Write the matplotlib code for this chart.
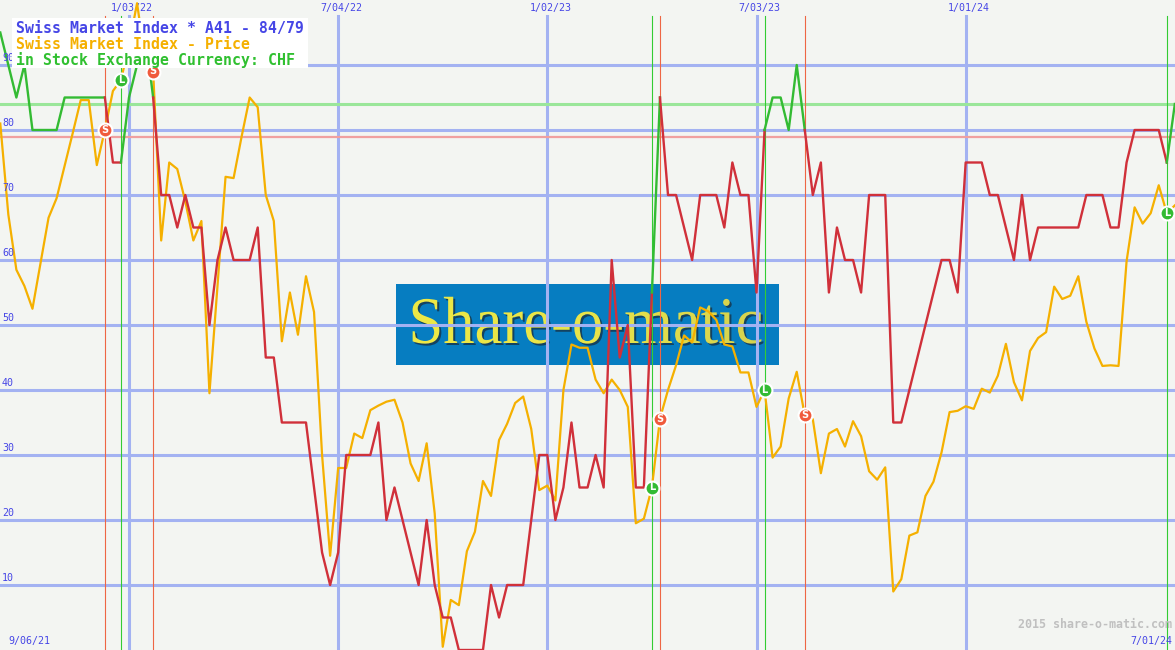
import numpy as np
import matplotlib.pyplot as plt
from matplotlib.patches import Rectangle, PathPatch
from matplotlib.textpath import TextPath
from matplotlib.font_manager import FontProperties
from matplotlib.transforms import Affine2D
from matplotlib.colors import LinearSegmentedColormap

# semanas desde 9/06/21, el indice 1 es la primera semana visible
semanas = np.arange(1, 148)

# indicador A41 (0-100)
indicador = [95, 90, 85, 90, 80, 80, 80, 80, 85, 85,
             85, 85, 85, 85, 75, 75, 85, 90, 95, 85,
             70, 70, 65, 70, 65, 65, 50, 60, 65, 60,
             60, 60, 65, 45, 45, 35, 35, 35, 35, 25,
             15, 10, 15, 30, 30, 30, 30, 35, 20, 25,
             20, 15, 10, 20, 10, 5, 5, 0, 0, 0,
             0, 10, 5, 10, 10, 10, 20, 30, 30, 20,
             25, 35, 25, 25, 30, 25, 60, 45, 50, 25,
             25, 55, 85, 70, 70, 65, 60, 70, 70, 70,
             65, 75, 70, 70, 55, 80, 85, 85, 80, 90,
             80, 70, 75, 55, 65, 60, 60, 55, 70, 70,
             70, 35, 35, 40, 45, 50, 55, 60, 60, 55,
             75, 75, 75, 70, 70, 65, 60, 70, 60, 65,
             65, 65, 65, 65, 65, 70, 70, 70, 65, 65,
             75, 80, 80, 80, 80, 75, 84]

# precio normalizado (0-100)
precio = [81, 67, 58.5, 56, 52.5, 59.5, 66.5, 69.5, 74.5, 79.5,
          84.6, 84.6, 74.6, 80, 86, 87.7, 93, 99.5, 91, 89,
          63, 75, 74, 69, 63, 66, 39.5, 56, 72.8, 72.6,
          79, 85, 83.5, 70, 66, 47.5, 55, 48.5, 57.5, 52,
          30, 14.5, 28, 28, 33.3, 32.6, 36.9, 37.6, 38.2, 38.5,
          35, 28.7, 26, 31.8, 21, 0.5, 7.7, 6.9, 15.2, 18.2,
          26, 23.7, 32.3, 34.8, 38, 39, 34, 24.6, 25.3, 23,
          40, 47, 46.5, 46.5, 41.6, 39.5, 41.6, 40, 37.4, 19.5,
          20.2, 25, 35.6, 40, 43.8, 48.4, 47.3, 52.7, 52.1, 50.8,
          47, 46.7, 42.7, 42.7, 37.4, 40, 29.6, 31.3, 38.7, 42.8,
          36.1, 35.5, 27.2, 33.3, 34, 31.3, 35.2, 32.9, 27.5, 26.2,
          28.1, 9, 10.9, 17.6, 18.1, 23.7, 25.9, 30.4, 36.6, 36.8,
          37.5, 37.1, 40.2, 39.6, 42.2, 47.1, 41.2, 38.4, 46, 48,
          48.9, 55.9, 54, 54.5, 57.5, 50.5, 46.4, 43.7, 43.8, 43.7,
          59.8, 68.1, 65.6, 67.2, 71.5, 67.2, 68.4]

senal_semana = [14, 16, 20, 82, 83, 96, 101, 146]
senal_tipo = ['S', 'L', 'S', 'L', 'S', 'L', 'S', 'L']

fechas_sem = [17, 43, 69, 95, 121]
fechas_txt = ['1/03/22', '7/04/22', '1/02/23', '7/03/23', '1/01/24']
fecha_ini = '9/06/21'
fecha_fin = '7/01/24'
niveles = [10, 20, 30, 40, 50, 60, 70, 80, 90]
umbral_L = 84
umbral_S = 79

titulo = ['Swiss Market Index * A41 - 84/79',
          'Swiss Market Index - Price',
          'in Stock Exchange Currency: CHF']

fondo = '#f3f5f2'
rejilla = '#a3b2f2'
azul = '#4646e6'
naranja = '#f5b000'
verde = '#33bb33'
rojo = '#d0303a'


def fx(px):
    return px / 1175


def fy(py):
    return 1 - py / 650


fig = plt.figure(figsize=(11.75, 6.5), dpi=100)
fig.patch.set_facecolor(fondo)
ax = fig.add_axes([0, 0, 1, 1])
ax.set_facecolor(fondo)
ax.set_xticks([])
ax.set_yticks([])
for s in ax.spines.values():
    s.set_visible(False)

# logo de fondo
ax.add_patch(Rectangle((fx(396), fy(365)), fx(779) - fx(396), fy(284) - fy(365),
                       transform=ax.transAxes, fc='#067dc1', ec='none', zorder=0.5))
tp = TextPath((0, 0), 'Share-o-matic', prop=FontProperties(family='Liberation Serif', size=48))
bb = tp.get_extents()
tr = (Affine2D().translate(-(bb.x0 + bb.width / 2), 0)
      .scale(100 / 72 * 0.94, 100 / 72).translate(587, 650 - 343))
sombra = PathPatch(tp, transform=tr + Affine2D().translate(2, -2), fc='#173449',
                   ec='none', alpha=0.8, zorder=0.55)
ax.add_patch(sombra)
letras = PathPatch(tp, transform=tr, fc='none', ec='none', zorder=0.6)
ax.add_patch(letras)
degradado = LinearSegmentedColormap.from_list('logo', ['#f8f43c', '#e8e44a', '#a8a85a'])
im = ax.imshow(np.linspace(0, 1, 256).reshape(1, -1), cmap=degradado, aspect='auto',
               extent=[0.965, 147.02, 0, 100], zorder=0.6)
im.set_clip_path(letras)

ax.set_xlim(0.965, 147.02)
ax.set_ylim(0, 100)

# rejilla
for v in niveles:
    ax.axhline(v, color=rejilla, lw=2.2, zorder=1)
    ax.text(fx(2), v + 0.3, str(v), transform=ax.get_yaxis_transform(), color=azul,
            fontsize=7.2, family='DejaVu Sans Mono', ha='left', va='bottom', zorder=8)
for w, t in zip(fechas_sem, fechas_txt):
    ax.axvline(w, ymax=fy(16), color=rejilla, lw=2.2, zorder=1)
    ax.text(w + 0.4, fy(8), t, transform=ax.get_xaxis_transform(), color=azul,
            fontsize=7.2, family='DejaVu Sans Mono', ha='center', va='center')
ax.text(fx(8), fy(641), fecha_ini, transform=ax.transAxes, color=azul,
        fontsize=7.2, family='DejaVu Sans Mono', ha='left', va='center')
ax.text(fx(1172), fy(641), fecha_fin, transform=ax.transAxes, color=azul,
        fontsize=7.2, family='DejaVu Sans Mono', ha='right', va='center')

# umbrales
ax.axhline(umbral_L, color='#9ae69a', lw=2.2, zorder=1.5)
ax.axhline(umbral_S, color='#f0a0a0', lw=1.6, zorder=1.5)

# lineas verticales de las senales
for w, t in zip(senal_semana, senal_tipo):
    ax.axvline(w, ymax=fy(16), color='#33cc33' if t == 'L' else '#ee6644', lw=0.8, zorder=2)

# precio
ax.plot(semanas, precio, color=naranja, lw=1.6, zorder=3)

# indicador, verde en compra y rojo en venta
estado = 'L'
colores = []
for w in semanas[:-1]:
    if w in senal_semana:
        estado = senal_tipo[senal_semana.index(w)]
    colores.append(verde if estado == 'L' else rojo)
i0 = 0
for i in range(1, len(colores) + 1):
    if i == len(colores) or colores[i] != colores[i0]:
        ax.plot(semanas[i0:i + 1], indicador[i0:i + 1], color=colores[i0], lw=1.7, zorder=4)
        i0 = i

# marcadores S / L
for w, t in zip(senal_semana, senal_tipo):
    y = precio[w - 1]
    ax.plot(w, y, 'o', ms=10, mfc=verde if t == 'L' else '#f05a3c',
            mec='white', mew=1.5, zorder=6)
    ax.text(w, y, t, color='white', fontsize=7, fontweight='bold',
            ha='center', va='center', zorder=7)

# leyenda
ax.add_patch(Rectangle((fx(12), fy(68)), fx(308) - fx(12), fy(18) - fy(68),
                       transform=ax.transAxes, fc='white', ec='none', zorder=9))
for t, c, py in zip(titulo, [azul, naranja, '#30c030'], [28.5, 44.5, 60.5]):
    ax.text(fx(16), fy(py), t, transform=ax.transAxes, color=c, fontsize=10.7,
            family='DejaVu Sans Mono', fontweight='bold', ha='left', va='center', zorder=10)

ax.text(fx(1172), fy(625), '2015 share-o-matic.com', transform=ax.transAxes,
        color='#c0c0c0', fontsize=8.4, family='DejaVu Sans Mono', fontweight='bold',
        ha='right', va='center')

plt.savefig('out.png', dpi=100, facecolor=fondo)
